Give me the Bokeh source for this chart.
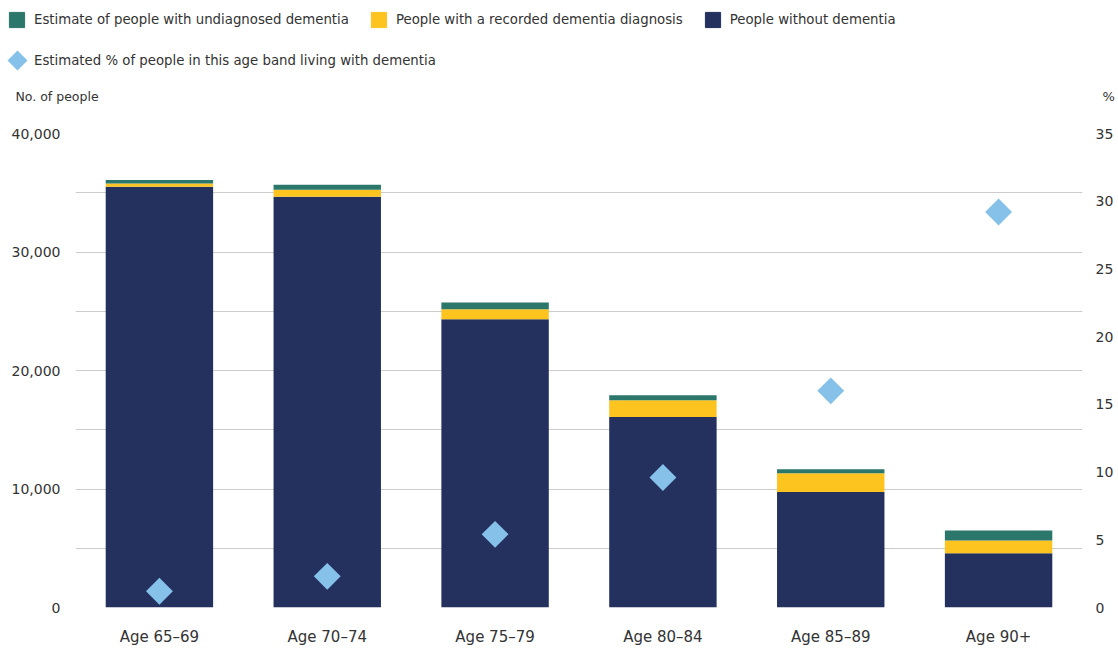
import math
from bokeh.plotting import figure
from bokeh.layouts import column
from bokeh.models import (ColumnDataSource, Range1d, LinearAxis, FixedTicker, NumeralTickFormatter,
                          Legend, LegendItem, Label, PolyAnnotation)
from bokeh.embed import file_html
from bokeh.resources import INLINE

categories = ["Age 65–69", "Age 70–74", "Age 75–79", "Age 80–84", "Age 85–89", "Age 90+"]
without_dementia = [35500, 34670, 24330, 16080, 9750, 4580]
recorded_diagnosis = [280, 580, 830, 1420, 1580, 1080]
undiagnosed = [300, 420, 580, 420, 330, 830]
pct_living = [1.2, 2.3, 5.4, 9.6, 16.0, 29.2]

left_ticks = [0, 10000, 20000, 30000, 40000]
grid_ticks = [0, 5000, 10000, 15000, 20000, 25000, 30000, 35000, 40000]
right_ticks = [0, 5, 10, 15, 20, 25, 30, 35]

NAVY = "#24305E"
YELLOW = "#FDC31F"
GREEN = "#2C776B"
LIGHTBLUE = "#85C1E9"
FONT = "DejaVu Sans"
TXT = "#333333"

W = 1116
TOP_H = 112
MAIN_H = 536
NAN = float("nan")

# ---------------- main chart ----------------
source = ColumnDataSource(dict(cat=categories, without=without_dementia,
                               recorded=recorded_diagnosis, undiag=undiagnosed, pct=pct_living))

p = figure(x_range=categories, y_range=Range1d(0, 40000), width=W, height=MAIN_H,
           output_backend="svg", toolbar_location=None,
           min_border_left=75, min_border_right=21, min_border_top=21, min_border_bottom=37)
p.frame_align = False
p.extra_y_ranges = {"pct": Range1d(0, 35)}
p.x_range.range_padding = 0
p.outline_line_color = None

bars = p.vbar_stack(["without", "recorded", "undiag"], x="cat", width=0.64,
                    color=[NAVY, YELLOW, GREEN], line_color=None, source=source)
dia = p.scatter(x="cat", y="pct", y_range_name="pct", source=source, marker="square",
                angle=math.pi / 4, size=19, fill_color=LIGHTBLUE, line_color=None)

p.xgrid.grid_line_color = None
p.ygrid.ticker = FixedTicker(ticks=grid_ticks)
p.ygrid.grid_line_color = "#cccccc"
p.ygrid.grid_line_width = 1
p.ygrid.level = "underlay"

yax = p.yaxis[0]
yax.ticker = FixedTicker(ticks=left_ticks)
yax.formatter = NumeralTickFormatter(format="0,0")
yax.axis_line_color = None
yax.major_tick_line_color = None
yax.minor_tick_line_color = None
yax.major_label_standoff = 9
yax.major_label_text_font = FONT
yax.major_label_text_font_size = "14px"
yax.major_label_text_color = TXT

xax = p.xaxis[0]
xax.axis_line_color = None
xax.major_tick_line_color = None
xax.major_label_standoff = 14
xax.major_label_text_font = FONT
xax.major_label_text_font_size = "15px"
xax.major_label_text_color = TXT

rax = LinearAxis(y_range_name="pct", ticker=FixedTicker(ticks=right_ticks))
rax.axis_line_color = None
rax.major_tick_line_color = None
rax.minor_tick_line_color = None
rax.major_label_standoff = 7
rax.major_label_text_font = FONT
rax.major_label_text_font_size = "14px"
rax.major_label_text_color = TXT
p.add_layout(rax, "right")

# ---------------- legend strip ----------------
t = figure(x_range=Range1d(0, W), y_range=Range1d(0, TOP_H), width=W, height=TOP_H,
           output_backend="svg", toolbar_location=None,
           x_axis_location=None, y_axis_location=None,
           min_border_left=0, min_border_right=0, min_border_top=0, min_border_bottom=0)
t.frame_align = False
t.grid.visible = False
t.outline_line_color = None

# legend-only renderers (a single missing value each, so nothing is drawn in the strip)
d_undiag = t.vbar(x=[NAN], top=[NAN], width=1, color=GREEN)
d_rec = t.vbar(x=[NAN], top=[NAN], width=1, color=YELLOW)
d_without = t.vbar(x=[NAN], top=[NAN], width=1, color=NAVY)
d_dia = t.scatter(x=[NAN], y=[NAN], marker="diamond", color=LIGHTBLUE)


def legend_common(lg, gh, standoff):
    lg.orientation = "horizontal"
    lg.glyph_width = gh
    lg.glyph_height = gh
    lg.label_height = gh
    lg.label_standoff = standoff
    lg.spacing = 20
    lg.padding = 0
    lg.margin = 0
    lg.border_line_color = None
    lg.background_fill_alpha = 0
    lg.label_text_font = FONT
    lg.label_text_font_size = "13.3px"
    lg.label_text_color = TXT


leg1 = Legend(items=[
    LegendItem(label="Estimate of people with undiagnosed dementia", renderers=[d_undiag]),
    LegendItem(label="People with a recorded dementia diagnosis", renderers=[d_rec]),
    LegendItem(label="People without dementia", renderers=[d_without]),
], location=(7, TOP_H - 10 - 19))
legend_common(leg1, 19, 8)
t.add_layout(leg1, "center")

leg2 = Legend(items=[
    LegendItem(label="Estimated % of people in this age band living with dementia", renderers=[d_dia]),
], location=(7, TOP_H - 50 - 20))
legend_common(leg2, 20, 7)
t.add_layout(leg2, "center")

# enlarged diamond swatch drawn over the legend glyph
cx, cy, r = 17, TOP_H - 60, 10
t.add_layout(PolyAnnotation(xs=[cx, cx + r, cx, cx - r], ys=[cy + r, cy, cy - r, cy],
                            fill_color=LIGHTBLUE, fill_alpha=1, line_color=None))

t.add_layout(Label(x=15, y=TOP_H - 96, text="No. of people", text_font=FONT,
                   text_font_size="12.5px", text_color=TXT, text_baseline="middle"))
t.add_layout(Label(x=1102, y=TOP_H - 96, text="%", text_font=FONT,
                   text_font_size="13px", text_color=TXT, text_baseline="middle"))

layout = column(t, p, spacing=0)
open("out.html", "w").write(file_html(layout, INLINE))
